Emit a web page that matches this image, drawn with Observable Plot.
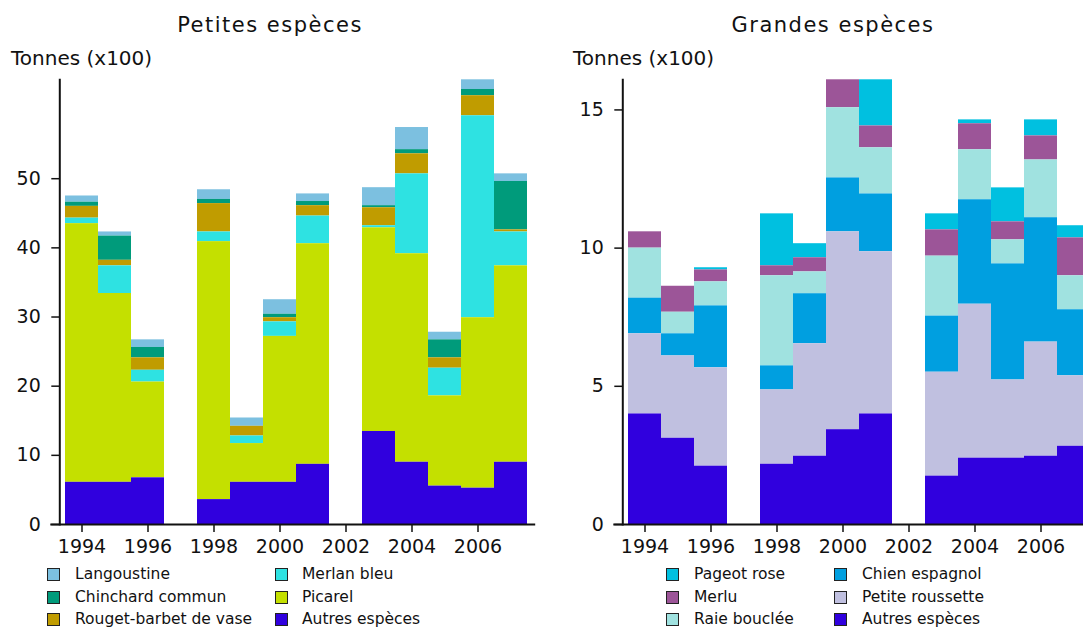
<!DOCTYPE html>
<html><head><meta charset="utf-8">
<script src="https://cdn.jsdelivr.net/npm/d3@7"></script>
<script src="https://cdn.jsdelivr.net/npm/@observablehq/plot@0.6"></script>
<style>
html,body{margin:0;padding:0;background:#fff;overflow:hidden;}
#page{position:relative;width:1083px;height:628px;overflow:hidden;font-family:"DejaVu Sans",sans-serif;color:#111;}
.abs{position:absolute;white-space:nowrap;}
.title{font-size:21px;line-height:21px;letter-spacing:1.5px;transform:translateX(-50%);}
.unit{font-size:20px;line-height:20px;}
.leg{font-size:15.5px;line-height:17px;}
.sw{position:absolute;width:11px;height:11px;border:1.5px solid #222;}
.plot{position:absolute;}
</style>
</head><body><div id="page"></div>
<script>
// ---------- data ----------
const years = [1994, 1995, 1996, 1998, 1999, 2000, 2001, 2003, 2004, 2005, 2006, 2007];
const allYears = [1994, 1995, 1996, 1997, 1998, 1999, 2000, 2001, 2002, 2003, 2004, 2005, 2006, 2007];
const yearTicks = [1994, 1996, 1998, 2000, 2002, 2004, 2006];

// Petites espèces (Tonnes x100)
const autresPetites = [6.1, 6.1, 6.75, 3.6, 6.1, 6.1, 8.7, 13.45, 9.0, 5.55, 5.25, 9.0];
const picarel       = [37.4, 27.3, 13.85, 37.3, 5.6, 21.1, 31.9, 29.45, 30.15, 13.05, 24.65, 28.4];
const merlanBleu    = [0.8, 4.0, 1.7, 1.4, 1.1, 2.1, 4.0, 0.3, 11.55, 4.0, 29.2, 4.9];
const rouget        = [1.7, 0.8, 1.8, 4.1, 1.4, 0.6, 1.5, 2.6, 2.9, 1.5, 2.9, 0.3];
const chinchard     = [0.6, 3.5, 1.5, 0.6, 0, 0.5, 0.6, 0.3, 0.6, 2.6, 0.9, 7.0];
const langoustine   = [0.9, 0.6, 1.1, 1.4, 1.2, 2.1, 1.1, 2.6, 3.2, 1.1, 1.4, 1.1];

// Grandes espèces (Tonnes x100)
const autresGrandes = [4.0, 3.12, 2.11, 2.18, 2.47, 3.43, 4.0, 1.75, 2.4, 2.4, 2.47, 2.83];
const roussette     = [2.9, 2.98, 3.56, 2.69, 4.07, 7.16, 5.87, 3.76, 5.57, 2.83, 4.13, 2.55];
const chien         = [1.29, 0.8, 2.24, 0.87, 1.81, 1.95, 2.09, 2.03, 3.78, 4.2, 4.5, 2.39];
const raie          = [1.81, 0.78, 0.87, 3.26, 0.79, 2.54, 1.67, 2.17, 1.81, 0.87, 2.09, 1.23];
const merlu         = [0.59, 0.94, 0.43, 0.36, 0.51, 1.01, 0.79, 0.95, 0.94, 0.65, 0.87, 1.37];
const pageot        = [0, 0, 0.08, 1.88, 0.51, 0, 1.67, 0.58, 0.14, 1.23, 0.58, 0.44];

// series names (legend order: top of stack first) and colours
const petitesNames  = ["Langoustine", "Chinchard commun", "Rouget-barbet de vase", "Merlan bleu", "Picarel", "Autres espèces"];
const petitesSeries = [langoustine, chinchard, rouget, merlanBleu, picarel, autresPetites];
const petitesColors = ["#7cc0e0", "#009b7b", "#c09c00", "#2ee2e2", "#c4e000", "#3000de"];

const grandesNames  = ["Pageot rose", "Merlu", "Raie bouclée", "Chien espagnol", "Petite roussette", "Autres espèces"];
const grandesSeries = [pageot, merlu, raie, chien, roussette, autresGrandes];
const grandesColors = ["#00c0e0", "#9c5598", "#a0e2e0", "#009fe0", "#c0c0e0", "#3000de"];

const petitesTicks = [0, 10, 20, 30, 40, 50];
const grandesTicks = [0, 5, 10, 15];

// ---------- build ----------
function tidy(names, series) {
  const out = [];
  names.forEach((n, i) => series[i].forEach((v, j) => out.push({year: years[j], species: n, value: v})));
  return out;
}

function chart(names, series, colors, yMax, yTicks, marginLeft, marginRight) {
  const stackOrder = names.slice().reverse(); // bottom first
  return Plot.plot({
    width: 545, height: 500,
    marginLeft, marginRight, marginTop: 19.3, marginBottom: 36,
    style: {fontFamily: "'DejaVu Sans', sans-serif", fontSize: "19px", color: "#111", background: "transparent", overflow: "visible"},
    x: {type: "band", domain: allYears, padding: 0, axis: null},
    y: {domain: [0, yMax], axis: null},
    color: {domain: names, range: colors},
    marks: [
      Plot.rectY(tidy(names, series), Plot.stackY({x: "year", y: "value", fill: "species", order: stackOrder})),
      Plot.axisY({ticks: yTicks, tickSize: 8, tickPadding: 11, label: null, strokeWidth: 1.5}),
      Plot.axisX({ticks: yearTicks, tickFormat: d => String(d), tickSize: 8, tickPadding: 7, label: null, strokeWidth: 1.5}),
      Plot.ruleY([0], {insetLeft: -9, insetRight: -2.5, stroke: "#111", strokeWidth: 2}),
      Plot.frame({anchor: "left", stroke: "#111", strokeWidth: 2})
    ]
  });
}

const page = document.getElementById("page");
function addText(cls, text, left, top) {
  const d = document.createElement("div");
  d.className = "abs " + cls;
  d.textContent = text;
  d.style.left = left + "px";
  d.style.top = top + "px";
  page.appendChild(d);
}
function addPlot(svg, left, top) {
  svg.classList.add("plot");
  svg.style.left = left + "px";
  svg.style.top = top + "px";
  page.appendChild(svg);
}
function addLegend(names, colors, swX, txX, rowY) {
  names.forEach((n, i) => {
    const col = Math.floor(i / 3), row = i % 3;
    const sw = document.createElement("div");
    sw.className = "sw";
    sw.style.background = colors[i];
    sw.style.left = swX[col] + "px";
    sw.style.top = (rowY[row] - 7) + "px";
    page.appendChild(sw);
    addText("leg", n, txX[col], rowY[row] - 9);
  });
}

addText("title", "Petites espèces", 270, 14.5);
addText("title", "Grandes espèces", 833, 14.5);
addText("unit", "Tonnes (x100)", 11, 47.5);
addText("unit", "Tonnes (x100)", 573, 47.5);

addPlot(chart(petitesNames, petitesSeries, petitesColors, 64.3, petitesTicks, 59.3, 12.3), 0, 60);
addPlot(chart(grandesNames, grandesSeries, grandesColors, 16.09, grandesTicks, 62.3, 9.5), 560, 60);

addLegend(petitesNames, petitesColors, [47, 275], [75, 302], [575, 598, 620]);
addLegend(grandesNames, grandesColors, [666, 834], [694, 862], [575, 598, 620]);
</script></body></html>
